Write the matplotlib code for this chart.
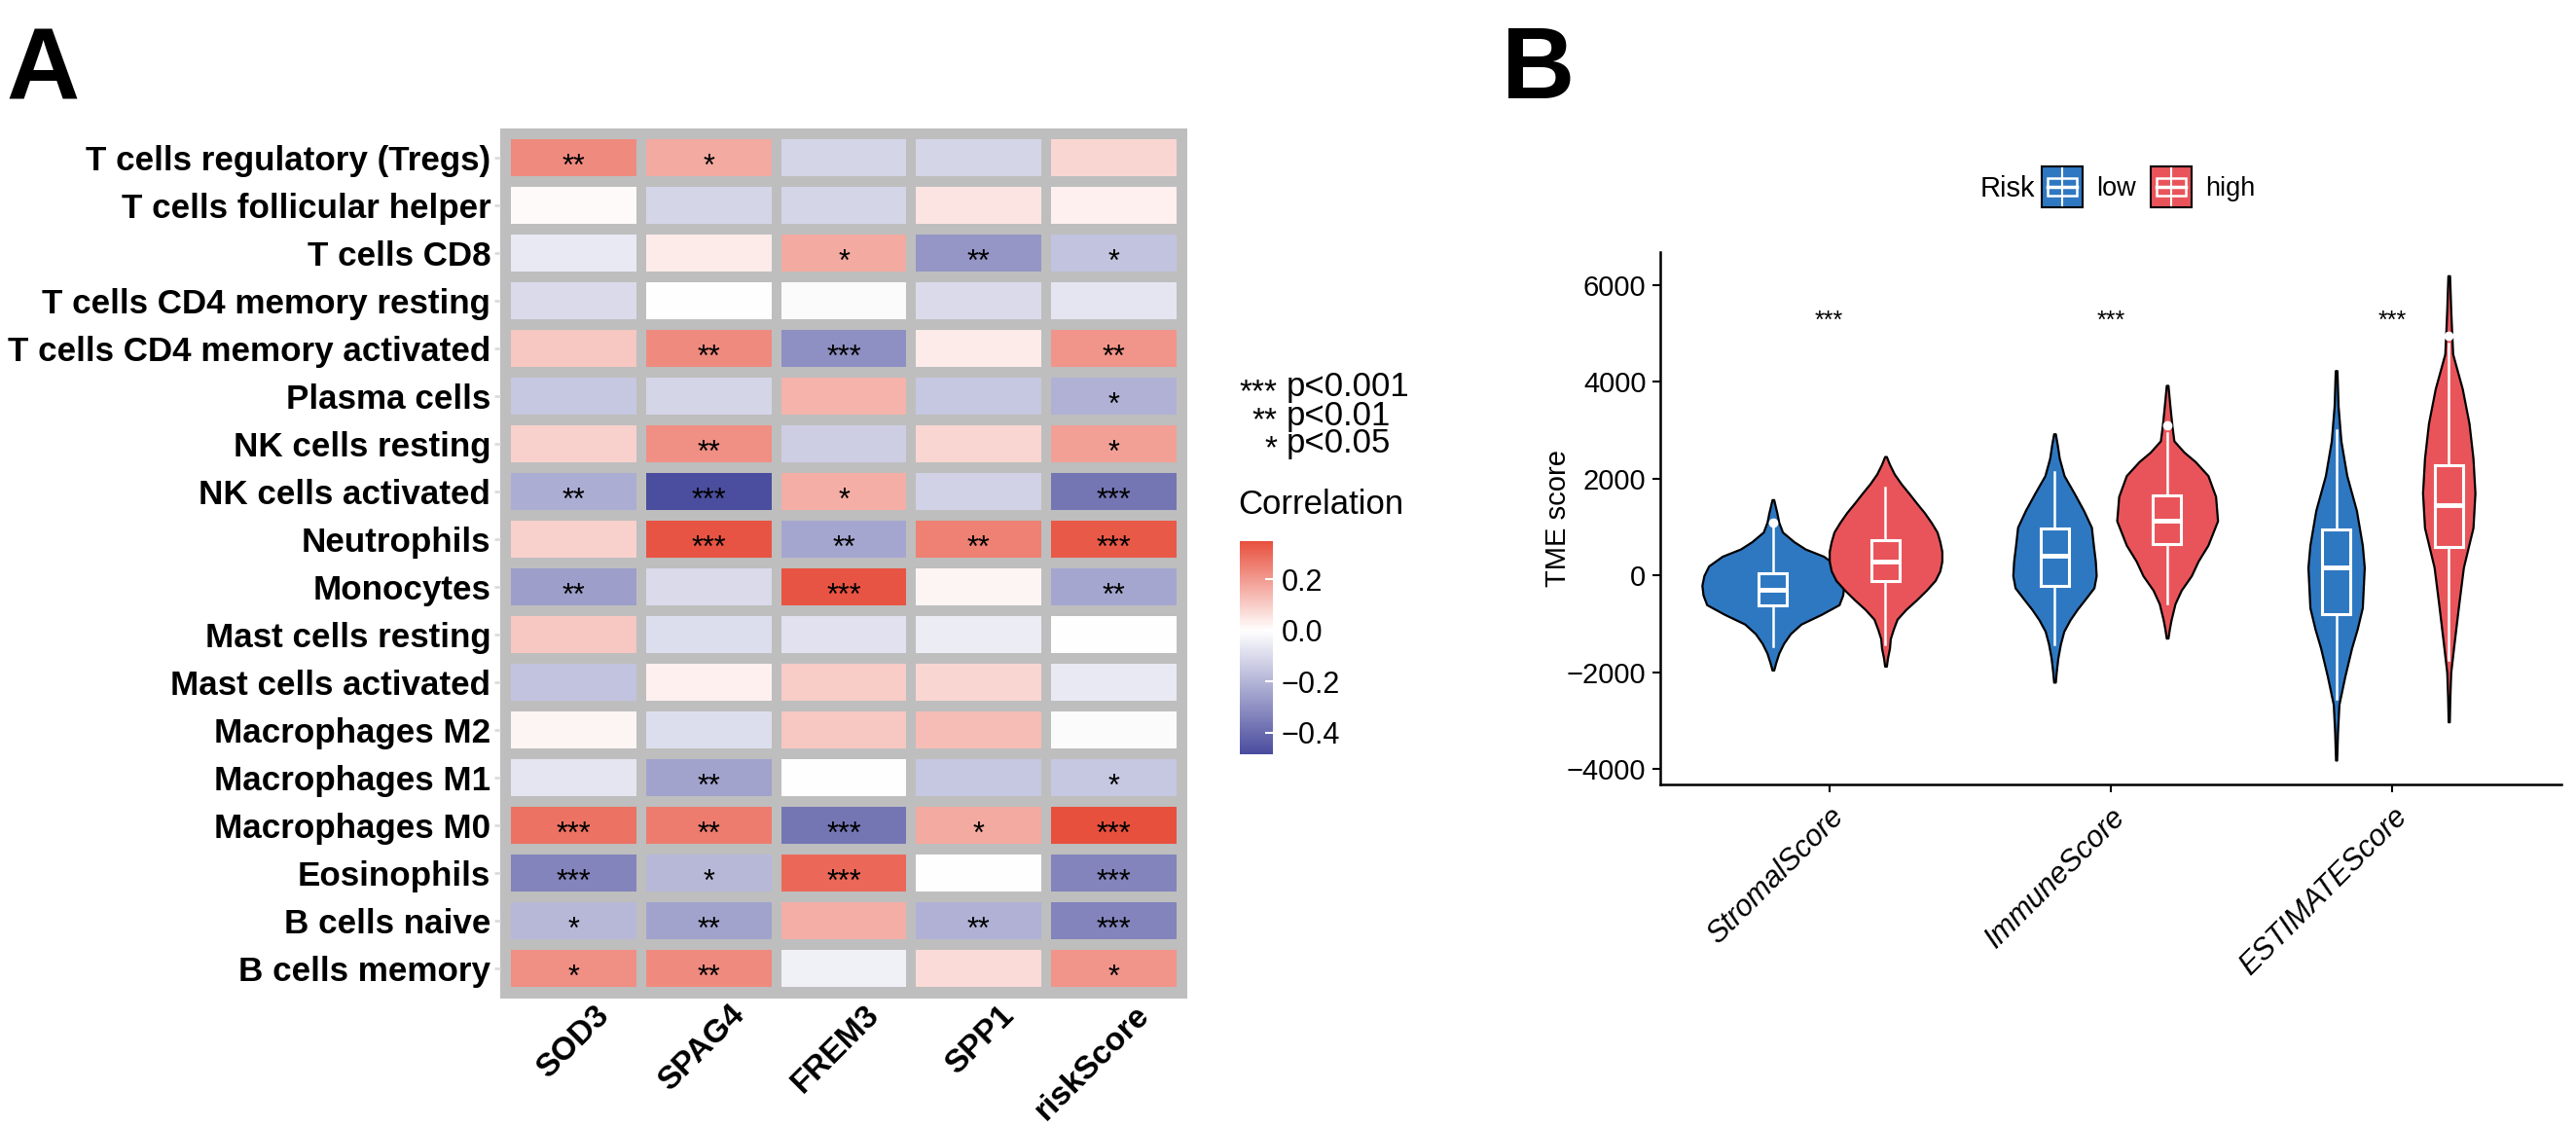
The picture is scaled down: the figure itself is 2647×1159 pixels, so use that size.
import numpy as np
import matplotlib.pyplot as plt
from matplotlib.colors import LinearSegmentedColormap, Normalize
from matplotlib.patches import Rectangle

plt.rcParams['font.family'] = ['Liberation Sans', 'DejaVu Sans']

# ---------------- panel A data ----------------
cells = ['T cells regulatory (Tregs)', 'T cells follicular helper', 'T cells CD8',
         'T cells CD4 memory resting', 'T cells CD4 memory activated', 'Plasma cells',
         'NK cells resting', 'NK cells activated', 'Neutrophils', 'Monocytes',
         'Mast cells resting', 'Mast cells activated', 'Macrophages M2',
         'Macrophages M1', 'Macrophages M0', 'Eosinophils', 'B cells naive',
         'B cells memory']
genes = ['SOD3', 'SPAG4', 'FREM3', 'SPP1', 'riskScore']

corr = np.array([
    [0.23, 0.17, -0.11, -0.11, 0.08],
    [0.01, -0.11, -0.11, 0.05, 0.03],
    [-0.06, 0.04, 0.17, -0.28, -0.16],
    [-0.10, 0.00, -0.01, -0.10, -0.07],
    [0.11, 0.23, -0.30, 0.04, 0.21],
    [-0.15, -0.11, 0.15, -0.15, -0.21],
    [0.09, 0.22, -0.13, 0.08, 0.19],
    [-0.22, -0.48, 0.16, -0.12, -0.37],
    [0.09, 0.34, -0.24, 0.25, 0.33],
    [-0.26, -0.10, 0.34, 0.02, -0.24],
    [0.11, -0.09, -0.08, -0.05, 0.00],
    [-0.16, 0.03, 0.10, 0.08, -0.06],
    [0.02, -0.09, 0.11, 0.13, -0.01],
    [-0.07, -0.25, 0.00, -0.15, -0.15],
    [0.28, 0.26, -0.37, 0.17, 0.35],
    [-0.33, -0.19, 0.30, 0.00, -0.33],
    [-0.19, -0.25, 0.16, -0.21, -0.33],
    [0.22, 0.23, -0.04, 0.07, 0.21],
])

stars = [
    ['**', '*', '', '', ''],
    ['', '', '', '', ''],
    ['', '', '*', '**', '*'],
    ['', '', '', '', ''],
    ['', '**', '***', '', '**'],
    ['', '', '', '', '*'],
    ['', '**', '', '', '*'],
    ['**', '***', '*', '', '***'],
    ['', '***', '**', '**', '***'],
    ['**', '', '***', '', '**'],
    ['', '', '', '', ''],
    ['', '', '', '', ''],
    ['', '', '', '', ''],
    ['', '**', '', '', '*'],
    ['***', '**', '***', '*', '***'],
    ['***', '*', '***', '', '***'],
    ['*', '**', '', '**', '***'],
    ['*', '**', '', '', '*'],
]

cb_ticks = [0.2, 0.0, -0.2, -0.4]
cmin, cmax = -0.485, 0.35

# ---------------- panel B data ----------------
scores = ['StromalScore', 'ImmuneScore', 'ESTIMATEScore']

# violin outlines: score levels and half widths
strom_low_y = [1570, 1300, 1100, 900, 700, 550, 400, 200, 0, -200, -400, -600,
               -800, -1000, -1200, -1400, -1600, -1800, -1950]
strom_low_w = [0.003, 0.014, 0.021, 0.034, 0.075, 0.115, 0.18, 0.228, 0.245,
               0.252, 0.248, 0.235, 0.172, 0.10, 0.062, 0.038, 0.021, 0.010, 0.003]
strom_high_y = [2460, 2300, 2100, 1900, 1700, 1500, 1300, 1100, 900, 700, 500,
                300, 100, -100, -300, -500, -700, -900, -1100, -1300, -1500,
                -1700, -1870]
strom_high_w = [0.003, 0.014, 0.031, 0.055, 0.083, 0.11, 0.138, 0.162, 0.183,
                0.193, 0.20, 0.20, 0.193, 0.176, 0.145, 0.11, 0.072, 0.041,
                0.028, 0.017, 0.014, 0.007, 0.003]
imm_low_y = [2930, 2700, 2426, 2066, 1700, 1349, 1000, 631, 300, 0, -250, -500,
             -700, -913, -1150, -1413, -1700, -2000, -2200]
imm_low_w = [0.003, 0.010, 0.017, 0.034, 0.07, 0.103, 0.131, 0.138, 0.145,
             0.148, 0.14, 0.107, 0.08, 0.055, 0.033, 0.021, 0.012, 0.006, 0.003]
imm_high_y = [3930, 3500, 3100, 2784, 2550, 2354, 2066, 1635, 1133, 631, 300, 0,
              -300, -579, -913, -1100, -1290]
imm_high_w = [0.003, 0.010, 0.017, 0.024, 0.06, 0.10, 0.145, 0.172, 0.179,
              0.145, 0.11, 0.086, 0.05, 0.028, 0.014, 0.008, 0.003]
est_low_y = [4235, 3503, 2784, 2066, 1349, 631, 171, -663, -1100, -1495, -2080,
             -2660, -3240, -3810]
est_low_w = [0.003, 0.007, 0.017, 0.038, 0.072, 0.093, 0.10, 0.093, 0.075,
             0.055, 0.031, 0.010, 0.005, 0.002]
est_high_y = [6195, 5500, 5081, 4578, 3860, 3143, 2426, 1708, 990, 171, -663,
              -1495, -2000, -2500, -3020]
est_high_w = [0.003, 0.007, 0.010, 0.014, 0.048, 0.072, 0.086, 0.093, 0.086,
              0.052, 0.034, 0.017, 0.007, 0.004, 0.002]

# box stats: whisker low, q1, median, q3, whisker high
box_low = [[-1455, -621, -287, 46, 1000],
           [-1413, -205, 420, 977, 2138],
           [-2539, -804, 171, 945, 3003]]
box_high = [[-1413, -105, 296, 738, 1817],
            [-580, 645, 1130, 1652, 2950],
            [-1740, 595, 1457, 2281, 4800]]
out_low = [[1100], [], []]
out_high = [[], [3100], [4950]]
sig = ['***', '***', '***']

blue = '#2E78C2'
red = '#E9545A'
gray = '#BEBEBE'

W, H = 2647, 1159
fig = plt.figure(figsize=(W / 100, H / 100), dpi=100)

# overlay in pixel coords for legends / panel letters
lax = fig.add_axes([0, 0, 1, 1])
lax.set_xlim(0, W)
lax.set_ylim(H, 0)
lax.axis('off')

# ---------------- heatmap ----------------
f0 = (0 - cmin) / (cmax - cmin)
cmap = LinearSegmentedColormap.from_list(
    'corr', [(0, '#4A4C9E'), (f0, '#FFFFFF'), (1, '#E8503E')])
norm = Normalize(cmin, cmax)

ax = fig.add_axes([514 / W, 1 - 1026 / H, 706 / W, 894 / H])
im = ax.imshow(corr, cmap=cmap, norm=norm, aspect='auto', interpolation='nearest')
ax.set_facecolor(gray)
for i in range(len(genes) + 1):
    ax.axvline(i - 0.5, color=gray, lw=7.2)
for j in range(len(cells) + 1):
    ax.axhline(j - 0.5, color=gray, lw=7.9)
ax.set_xlim(-0.545, len(genes) - 0.455)
ax.set_ylim(len(cells) - 0.36, -0.606)
for s in ax.spines.values():
    s.set_visible(False)

for r in range(len(cells)):
    for c in range(len(genes)):
        if stars[r][c]:
            ax.text(c, r + 0.2, stars[r][c], ha='center', va='center',
                    fontsize=22, color='black')

ax.set_yticks(range(len(cells)))
ax.set_yticklabels(cells, fontsize=25.2, fontweight='bold')
ax.tick_params(axis='y', length=4, width=2, color='#DDDDDD', pad=3)
ax.set_xticks(np.arange(len(genes)) + 0.15)
ax.set_xticklabels(genes, fontsize=24, fontweight='bold', rotation=45,
                   ha='right', va='top', rotation_mode='anchor')
ax.tick_params(axis='x', length=0, pad=1)

# significance key
for k, (st, lab) in enumerate(zip(['***', '**', '*'], ['p<0.001', 'p<0.01', 'p<0.05'])):
    yy = 398 + k * 29
    lax.text(1312, yy + 6, st, ha='right', va='center', fontsize=24)
    lax.text(1322, yy, lab, ha='left', va='center', fontsize=25)

# colorbar
cax = fig.add_axes([1274 / W, 1 - 775 / H, 34 / W, 219 / H])
cb = fig.colorbar(im, cax=cax, ticks=cb_ticks)
cb.outline.set_visible(False)
cb.ax.tick_params(length=6, width=1.5, color='white', direction='in',
                  labelsize=22, pad=6)
cb.ax.set_yticklabels(['0.2', '0.0', '\u22120.2', '\u22120.4'])
lax.text(1272, 518, 'Correlation', ha='left', va='center', fontsize=25)

# ---------------- violins ----------------
ax2 = fig.add_axes([1706 / W, 1 - 805.6 / H, 926 / W, 546.6 / H])
viol_low = [(strom_low_y, strom_low_w), (imm_low_y, imm_low_w), (est_low_y, est_low_w)]
viol_high = [(strom_high_y, strom_high_w), (imm_high_y, imm_high_w),
             (est_high_y, est_high_w)]

for i in range(len(scores)):
    for off, (yy, ww), col in [(-0.2, viol_low[i], blue), (0.2, viol_high[i], red)]:
        yy = np.array(yy)
        ww = np.array(ww)
        ax2.fill_betweenx(yy, i + off - ww, i + off + ww, facecolor=col,
                          edgecolor='black', lw=1.6, zorder=2)

def stats(b, fl):
    return dict(whislo=b[0], q1=b[1], med=b[2], q3=b[3], whishi=b[4], fliers=fl)

for off, boxes, outs, col in [(-0.2, box_low, out_low, blue), (0.2, box_high, out_high, red)]:
    bx = ax2.bxp([stats(b, o) for b, o in zip(boxes, outs)],
                 positions=np.arange(len(scores)) + off, widths=0.1,
                 patch_artist=True, showcaps=False,
                 boxprops=dict(facecolor=col, edgecolor='white', lw=2.2),
                 medianprops=dict(color='white', lw=3.5),
                 whiskerprops=dict(color='white', lw=1.8),
                 flierprops=dict(marker='o', markerfacecolor='white',
                                 markeredgecolor='white', markersize=6))
    for a in bx['boxes'] + bx['medians'] + bx['whiskers'] + bx['fliers']:
        a.set_zorder(3)

for i, s in enumerate(sig):
    ax2.text(i, 5262, s, ha='center', va='center', fontsize=18)

ax2.set_xlim(-0.6, 2.6)
ax2.set_ylim(-4305, 6683)
ax2.set_yticks([-4000, -2000, 0, 2000, 4000, 6000])
ax2.set_xticks(range(len(scores)))
ax2.set_xticklabels(scores, fontsize=22, style='italic', rotation=45,
                    ha='right', va='top', rotation_mode='anchor')
ax2.tick_params(axis='both', length=5.5, width=1.5, labelsize=21, pad=5)
ax2.tick_params(axis='x', labelsize=22, pad=8)
ax2.set_ylabel('TME score', fontsize=21, labelpad=-4)
for s in ['top', 'right']:
    ax2.spines[s].set_visible(False)
for s in ['left', 'bottom']:
    ax2.spines[s].set_linewidth(1.8)

# risk legend
def key(x0, col):
    lax.add_patch(Rectangle((x0, 171), 42, 42, facecolor=col, edgecolor='black', lw=1.5))
    lax.plot([x0 + 21, x0 + 21], [173, 211], color='white', lw=1.5)
    lax.add_patch(Rectangle((x0 + 6, 183), 30, 18, facecolor=col, edgecolor='white', lw=1.8))
    lax.plot([x0 + 6, x0 + 36], [192, 192], color='white', lw=2.5)

lax.text(2035, 194, 'Risk', ha='left', va='center', fontsize=21)
key(2098, blue)
lax.text(2154, 194, 'low', ha='left', va='center', fontsize=19.5)
key(2210, red)
lax.text(2266, 194, 'high', ha='left', va='center', fontsize=19.5)

# panel letters
lax.text(6, 101, 'A', fontsize=75, fontweight='bold', va='baseline')
lax.text(1543, 101, 'B', fontsize=75, fontweight='bold', va='baseline')

fig.savefig('out.png', dpi=100)
